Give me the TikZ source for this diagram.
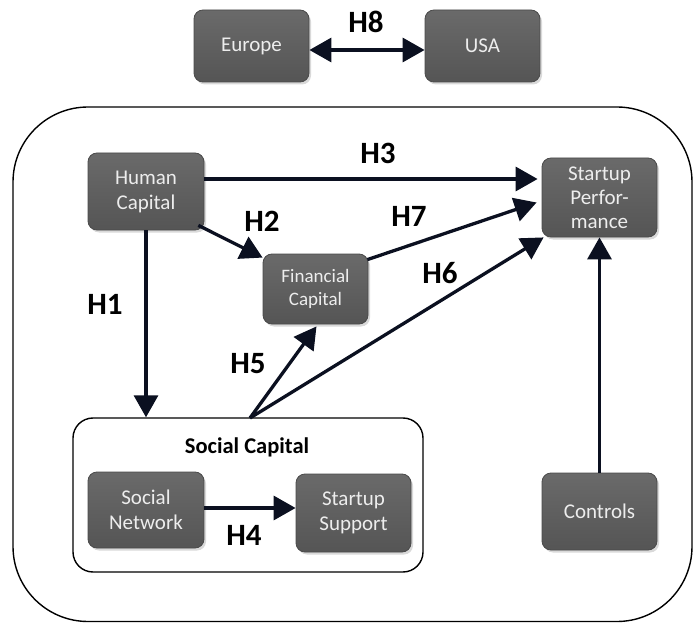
\documentclass[tikz,border=0pt]{standalone}
\usepackage{fontspec}
\setmainfont{Carlito}
\usetikzlibrary{arrows.meta,shadows}

\definecolor{boxtop}{HTML}{6A6A6A}
\definecolor{boxbot}{HTML}{555555}
\definecolor{boxline}{HTML}{4A4A4A}
\definecolor{boxtext}{HTML}{EDEDED}
\definecolor{arrowcol}{HTML}{0B1020}

\tikzset{
  factor/.style={rounded corners=9pt, draw=boxline, line width=0.8pt,
    top color=boxtop, bottom color=boxbot,
    drop shadow={opacity=0.3, shadow xshift=2pt, shadow yshift=-2.5pt},
    text=boxtext, align=center, inner sep=0pt,
    minimum width=115pt, minimum height=77pt,
    font=\fontsize{21}{25}\selectfont},
  hyp/.style={font=\bfseries\fontsize{31}{32}\selectfont, text=black, inner sep=0pt},
  link/.style={draw=arrowcol, line width=3.3pt,
    -{Triangle[length=22pt,width=24pt]}},
  frame/.style={draw=black, line width=1.4pt}
}

\begin{document}
\begin{tikzpicture}[x=1pt,y=-1pt]
\useasboundingbox (0,0) rectangle (694,623);

% enclosing model frame and the social capital group
\draw[frame, rounded corners=75pt] (13,107) rectangle (692,621.5);
\node[frame, rounded corners=20pt, minimum width=350pt, minimum height=154pt,
      inner sep=0pt] (sc) at (248,495) {};
\node[font=\bfseries\fontsize{22.5}{24}\selectfont] (sclabel) at (247,447) {Social Capital};

% factors
\node[factor, minimum height=72pt] (eu) at (251.5,46) {Europe};
\node[factor, minimum height=72pt] (usa) at (482.5,46) {USA};
\node[factor, minimum width=116pt] (hc) at (146,191.5) {Human\\Capital};
\node[factor, minimum width=105pt, minimum height=70pt,
      font=\fontsize{19}{23.5}\selectfont] (fc) at (315.5,289) {Financial\\Capital};
\node[factor, minimum height=79pt, font=\fontsize{21}{24}\selectfont]
      (sp) at (599.5,197.5) {Startup\\Perfor-\\mance};
\node[factor, minimum width=116pt, minimum height=76pt] (sn) at (146,510) {Social\\Network};
\node[factor, minimum height=78pt] (ss) at (353.5,513) {Startup\\Support};
\node[factor] (ctrl) at (599.5,511.5) {Controls};

% common origin of H5 and H6 on the social capital border
\coordinate (apex) at (250,418);

% hypothesised effects
\draw[draw=arrowcol, line width=3.3pt,
      {Triangle[length=22pt,width=24pt]}-{Triangle[length=22pt,width=24pt]}]
      (eu.east |- 0,50) -- (usa.west |- 0,50);
\draw[link] (hc.east |- 0,179) -- ([xshift=-4pt]sp.west |- 0,179);
\draw[link] ([xshift=-6pt,yshift=5pt]hc.south east) -- ([yshift=-4pt]fc.north west);
\draw[link] ([xshift=-1pt,yshift=-6pt]fc.north east) -- ([xshift=-5pt,yshift=-5pt]sp.west);
\draw[link] (apex) -- ([xshift=2pt]sp.south west);
\draw[link] (apex) -- ([xshift=1pt,yshift=-2pt]fc.south);
\draw[link] (hc.south) -- (hc.south |- sc.north);
\draw[link] (sn.east |- 0,508) -- (ss.west |- 0,508);
\draw[link] (ctrl.north) -- (sp.south);

% hypothesis labels
\node[hyp] (h8) at (366,22) {H8};
\node[hyp] (h3) at (378,153) {H3};
\node[hyp] (h2) at (262,221) {H2};
\node[hyp] (h7) at (409,216) {H7};
\node[hyp] (h6) at (440,273) {H6};
\node[hyp] (h1) at (105,304) {H1};
\node[hyp] (h5) at (248,364) {H5};
\node[hyp] (h4) at (244,535) {H4};
\end{tikzpicture}
\end{document}
